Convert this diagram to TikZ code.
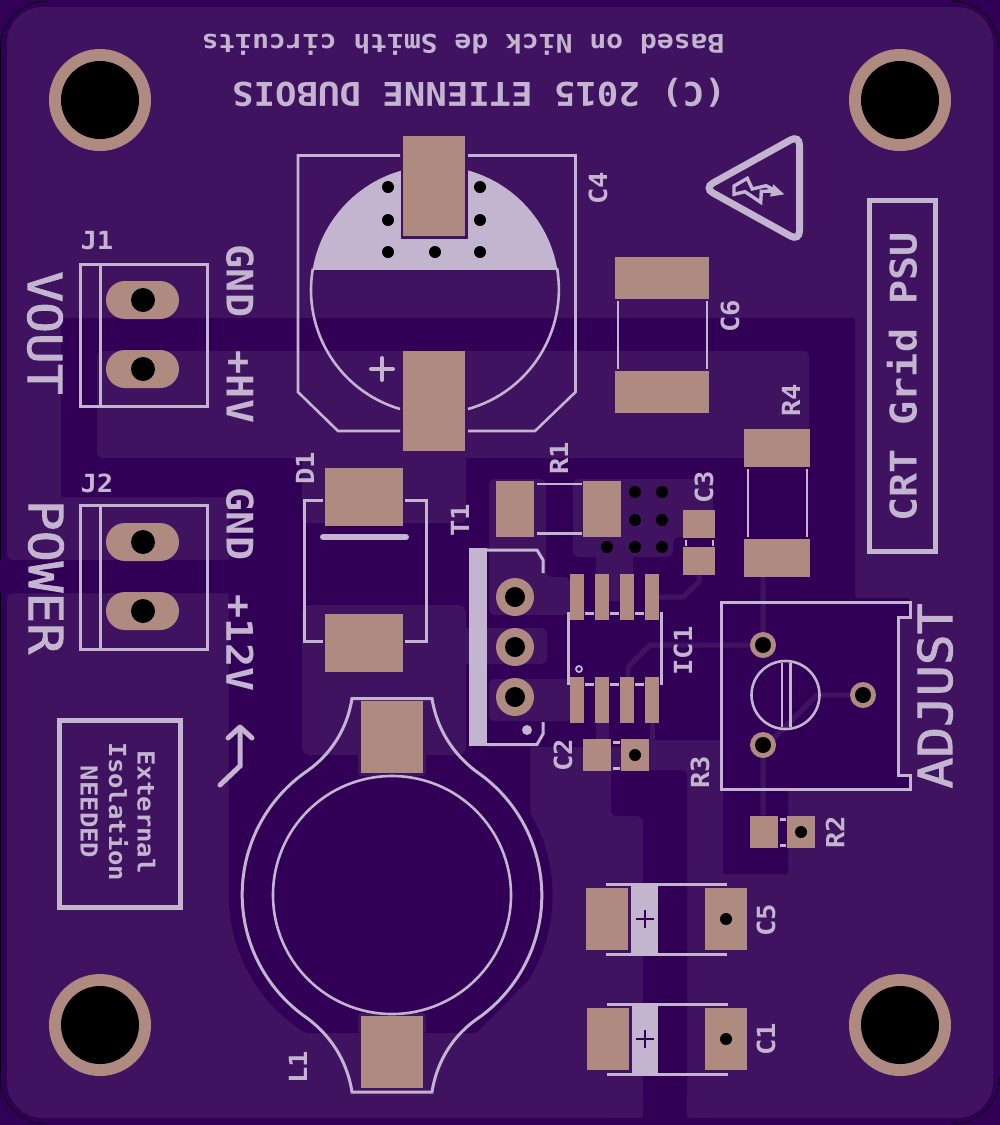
\documentclass[tikz,border=0pt]{standalone}
\usepackage{fontspec}
\setmainfont{DejaVu Sans Mono}[FakeStretch=1.09]
\newfontfamily\bigface{DejaVu Sans Mono}[FakeStretch=1.09,FakeBold=2]
\definecolor{cdark}{HTML}{310056}
\definecolor{clight}{HTML}{3F1360}
\definecolor{cpad}{HTML}{AF8A80}
\definecolor{csilk}{HTML}{C3B4CF}
\newcommand\pcbpad[4]{\fill[cpad] (#1,#2) rectangle (#3,#4);}
\newcommand\pcbvia[2]{\fill[black] (#1,#2) circle[radius=6];}
\newcommand\fsz[1]{\fontsize{#1}{#1}\selectfont\bfseries}
\tikzset{
  silk/.style={draw=csilk,line width=3,line join=miter},
  silkthin/.style={draw=csilk,line width=2.6},
  lbl/.style={text=csilk,inner sep=0pt,anchor=center},
  refd/.style={lbl,font=\fsz{25}},
  big/.style={lbl,font=\bigface\fontsize{47}{47}\selectfont},
  mid/.style={lbl,font=\fsz{36.7}},
  track/.style={draw=clight,line width=5,line join=round}
}
\begin{document}
\begin{tikzpicture}[x=1pt,y=1pt,yscale=-1]
\useasboundingbox (0,0) rectangle (1000,1125);
\fill[cdark] (0,0) rectangle (1000,1125);
% board outline
\draw[black,line width=.8] (0.5,48) arc[start angle=180,end angle=270,radius=47];
\draw[black,line width=.8] (952,1) arc[start angle=270,end angle=360,radius=47];
\draw[black,line width=.8] (999.5,1077) arc[start angle=0,end angle=90,radius=47];
\draw[black,line width=.8] (47,1124) arc[start angle=90,end angle=180,radius=47];
\draw[black,line width=.8] (0.5,48) -- (0.5,1077);
% copper pour
\fill[clight,rounded corners=36] (7,7) rectangle (993,1118);
% clearance areas
\fill[cdark,rounded corners=1.5] (61,318) -- (855,318) -- (855,598) -- (910,598) -- (910,617) -- (898,617) -- (898,775) -- (910,775) -- (910,790) -- (788,790) -- (788,874) -- (723,874) -- (723,740) -- (653,740) -- (640,747) -- (530,747) -- (530,813)
  arc[start angle=-30.5,end angle=31.7,radius=162] -- (476,1033) -- (306,1033)
  arc[start angle=121.6,end angle=180,radius=162] -- (229,593) -- (0,593) -- (0,560) -- (229,560) -- (229,497) -- (61,497) -- cycle;
\fill[cdark] (7,560) -- (13,560) arc[start angle=90,end angle=180,radius=6] -- cycle;
\fill[cdark] (7,593) -- (13,593) arc[start angle=270,end angle=180,radius=6] -- cycle;
\fill[cdark,rounded corners=5] (611,770) -- (687,770) -- (687,1125) -- (643,1125) -- (643,816) -- (611,816) -- cycle;
\fill[clight,rounded corners=6] (687,1090) rectangle (720,1118);
\fill[clight,rounded corners=6] (600,1090) rectangle (643,1118);
% poured regions over clearance
\fill[clight,rounded corners=6] (97,351) rectangle (809,458);
\fill[clight,rounded corners=6] (302,440) rectangle (466,523);
\fill[clight,rounded corners=8] (302,605) rectangle (466,755);
\fill[clight,rounded corners=3] (358,700) rectangle (426,776);
\fill[clight,rounded corners=3] (358,1013) rectangle (426,1034);
\fill[clight,rounded corners=6] (489,479) -- (546,479) -- (546,577) -- (570,577) -- (570,615) -- (489,615) -- cycle;
\fill[clight,rounded corners=6] (440,628) rectangle (547,664);
\fill[clight,rounded corners=6] (489,679) rectangle (572,721);
\fill[clight,rounded corners=6] (573,479) -- (713,479) -- (713,537) -- (673,537) -- (673,557) -- (573,557) -- cycle;
\fill[clight] (596,550) rectangle (633,601);
\fill[clight] (596,720) rectangle (609,745);
\fill[clight] (650,720) rectangle (655,745);
% tracks
\draw[track] (763,577) -- (763,645) -- (650,645) -- (628,667) -- (628,678);
\draw[track] (699,575) -- (699,582) -- (683,597) -- (658,597);
\draw[track] (863,695) -- (817,695) -- (771,741) -- (763,745) -- (763,815);
% silk: titles
\node[lbl,rotate=180,font=\fsz{25.7}] (tbased) at (463,45) {Based on Nick de Smith circuits};
\node[lbl,rotate=180,font=\fsz{32.7}] (tcopy) at (479,93) {(C) 2015 ETIENNE DUBOIS};
\draw[csilk,line width=5] (869.5,200.5) rectangle (935,551.5);
\node[mid,rotate=90] (tcrt) at (902,377) {CRT Grid PSU};
\node[big,rotate=-90] (tvout) at (45,333) {VOUT};
\node[big,rotate=-90] (tpower) at (46,577) {POWER};
\node[big,rotate=90] (tadj) at (935,696) {ADJUST};
\node[mid,rotate=-90] (tgnda) at (240,281) {GND};
\node[mid,rotate=-90] (thv) at (240,387) {+HV};
\node[mid,rotate=-90] (tgndb) at (240,524) {GND};
\node[mid,rotate=-90] (t12v) at (240,643) {+12V};
\draw[csilk,line width=5] (59,720.5) rectangle (180,907);
\node[lbl,rotate=-90,font=\fsz{23.5},align=center] (text) at (118,812) {External\\[5pt]Isolation\\[5pt]NEEDED};
\draw[csilk,line width=5,line cap=round,line join=miter] (220,785) -- (240,766) -- (240,729);
\draw[csilk,line width=5,line cap=round,line join=round] (228,738) -- (240,727) -- (252,738);
% warning triangle
\draw[csilk,line width=7,rounded corners=10] (704,188) -- (799.5,135) -- (799.5,241) -- cycle;
\draw[csilk,line width=3.4,line join=miter] (734,186) -- (747.3,178.3) -- (752.3,189) -- (766,185.7) -- (776,191) -- (761.3,191.3) -- (760.7,202.3) -- (745,191.7) -- (734,194.3) -- cycle;
\fill[csilk] (773.3,184.3) -- (784.3,194.3) -- (770,196.7) -- cycle;
% J1, J2
\draw[silk] (80,264.5) rectangle (207,406.5) (100,264.5) -- (100,406.5);
\draw[silk] (80,505.5) rectangle (207,649.5) (100,505.5) -- (100,649.5);
\foreach \yy in {300,369,542,611}{
  \fill[cpad,rounded corners=18.9] (106,\yy-19) rectangle (179,\yy+19);
  \fill[black] (143,\yy) circle[radius=12];
}
\node[refd] (tj1) at (97,241) {J1};
\node[refd] (tj2) at (97,483) {J2};
% C4
\begin{scope}
  \clip (0,0) rectangle (1000,269);
  \fill[csilk] (435,290) circle[radius=124];
\end{scope}
\fill[clight] (401,136) rectangle (468,239);
\draw[silkthin] (400,155.5) -- (298,155.5) -- (298,392) -- (338,431) -- (400,431);
\draw[silkthin] (468,155.5) -- (575.5,155.5) -- (575.5,392) -- (535,431) -- (468,431);
\draw[silkthin] (400,409) arc[start angle=106.4,end angle=190,radius=124];
\draw[silkthin] (468,409) arc[start angle=74.5,end angle=-10,radius=124];
\draw[csilk,line width=4,line cap=round] (371,369) -- (393,369) (382,358) -- (382,380);
\pcbpad{403}{136}{465}{236}
\pcbpad{403}{351}{465}{451}
\foreach \xx/\yy in {388/187,388/220,388/252,435/252,480/187,480/220,480/252}{\pcbvia{\xx}{\yy}}
\node[refd,rotate=90] (tc4) at (598,188) {C4};
% C6
\pcbpad{615}{257}{709}{299}
\pcbpad{615}{371}{709}{413}
\draw[silkthin] (618,301) -- (618,369) (707,301) -- (707,369);
\node[refd,rotate=90] (tc6) at (730,316) {C6};
% R4
\pcbpad{744}{429}{810}{467}
\pcbpad{744}{539}{810}{577}
\draw[silkthin] (748,469) -- (748,537) (807,469) -- (807,537);
\node[refd,rotate=90] (tr4) at (791,400) {R4};
% R1
\pcbpad{496}{481}{534}{537}
\pcbpad{583}{481}{621}{537}
\draw[silkthin] (537,484) -- (582,484) (537,533.5) -- (582,533.5);
\node[refd,rotate=90] (tr1) at (559,458) {R1};
% C3
\pcbpad{683}{510}{715}{538}
\pcbpad{683}{547}{715}{575}
\draw[silkthin] (686,540) -- (686,546) (713,540) -- (713,546);
\node[refd,rotate=90] (tc3) at (704,487) {C3};
\foreach \xx/\yy in {635/492,662/492,635/520,662/520,607/547,635/547,662/547}{\pcbvia{\xx}{\yy}}
% D1
\pcbpad{325}{468}{403}{526}
\pcbpad{325}{614}{403}{672}
\draw[silkthin,line width=3] (323,500) -- (304,500) -- (304,641) -- (323,641);
\draw[silkthin,line width=3] (405,500) -- (426,500) -- (426,641) -- (405,641);
\draw[csilk,line width=6,line cap=round] (323,537) -- (406,537);
\node[refd,rotate=90] (td1) at (305,468) {D1};
% T1
\fill[csilk] (469,548) rectangle (487,746);
\draw[silk] (487,550) -- (537,550) -- (543,560) -- (543,573);
\draw[silk] (487,744.5) -- (537,744.5) -- (543,734) -- (543,722);
\foreach \yy in {597,647,697}{
  \fill[cpad] (515,\yy) circle[radius=19];
  \fill[black] (515,\yy) circle[radius=10];
}
\fill[csilk] (527,730) circle[radius=5];
\node[refd,rotate=90] (tt1) at (460,520) {T1};
% IC1
\foreach \xx in {570,595,620,645}{
  \pcbpad{\xx}{574}{\xx+14}{620}
  \pcbpad{\xx}{677}{\xx+14}{723}
}
\draw[silkthin] (568.5,612) -- (568.5,685) (661.5,612) -- (661.5,685);
\foreach \xx in {585,610,635}{
  \draw[silkthin] (\xx,613.5) -- (\xx+9,613.5);
  \draw[silkthin] (\xx,684.5) -- (\xx+9,684.5);
}
\draw[csilk,line width=1.8] (579,669) circle[radius=3];
\node[refd,rotate=90] (tic1) at (683,651) {IC1};
% C2
\pcbpad{583}{739}{611}{771}
\pcbpad{621}{739}{649}{771}
\pcbvia{635}{755}
\draw[silkthin] (613,742.5) -- (620,742.5) (613,768.5) -- (620,768.5);
\node[refd,rotate=90] (tc2) at (563,755) {C2};
% R2
\pcbpad{750}{816}{778}{848}
\pcbpad{787}{816}{815}{848}
\pcbvia{801}{832}
\draw[silkthin] (780,819.5) -- (786,819.5) (780,845.5) -- (786,845.5);
\node[refd,rotate=90] (tr2) at (835,832) {R2};
% C5
\pcbpad{586}{888}{628}{950}
\pcbpad{705}{888}{747}{950}
\pcbvia{726}{919}
\draw[silk] (606,884.5) -- (727,884.5) (606,954) -- (727,954);
\fill[csilk] (631,883) rectangle (658,955.5);
\draw[cdark,line width=2.6] (636,919) -- (654,919) (645,910) -- (645,928);
\node[refd,rotate=90] (tc5) at (766,920) {C5};
% C1
\pcbpad{587}{1008}{629}{1070}
\pcbpad{705}{1008}{747}{1070}
\pcbvia{726}{1039}
\draw[silk] (607,1004.5) -- (728,1004.5) (607,1074) -- (728,1074);
\fill[csilk] (632,1003) rectangle (658,1075.5);
\draw[cdark,line width=2.6] (636,1039) -- (654,1039) (645,1030) -- (645,1048);
\node[refd,rotate=90] (tc1) at (766,1039) {C1};
% R3 trimmer
\draw[silk] (721.5,602) -- (910,602) -- (910,617) -- (898,617) -- (898,775) -- (910,775) -- (910,789.5) -- (721.5,789.5) -- cycle;
\draw[silkthin] (785.5,695) circle[radius=34];
\draw[silkthin] (782,663) -- (782,727) (790.5,663) -- (790.5,727);
\foreach \xx/\yy in {763/645,763/745,863/695}{
  \fill[cpad] (\xx,\yy) circle[radius=13];
  \fill[black] (\xx,\yy) circle[radius=8];
}
\node[refd,rotate=90] (tr3) at (700,772) {R3};
% L1
\draw[csilk,line width=2.6] (392,895) circle[radius=119];
\draw[csilk,line width=3] (352,698.5) -- (432,698.5) .. controls (437,730) and (454,755) .. (477,772)
  arc[start angle=-55.4,end angle=55.4,radius=150] .. controls (454,1035) and (437,1060) .. (432,1092)
  -- (352,1092) .. controls (347,1060) and (330,1035) .. (307,1018)
  arc[start angle=124.6,end angle=235.4,radius=150] .. controls (330,755) and (347,730) .. cycle;
\pcbpad{361}{701}{423}{773}
\pcbpad{361}{1016}{423}{1088}
\node[refd,rotate=90] (tl1) at (298,1067) {L1};
% mounting holes
\foreach \xx/\yy in {100/100,900/100,100/1025,900/1025}{
  \fill[cpad] (\xx,\yy) circle[radius=51];
  \fill[black] (\xx,\yy) circle[radius=39];
}
\end{tikzpicture}
\end{document}
